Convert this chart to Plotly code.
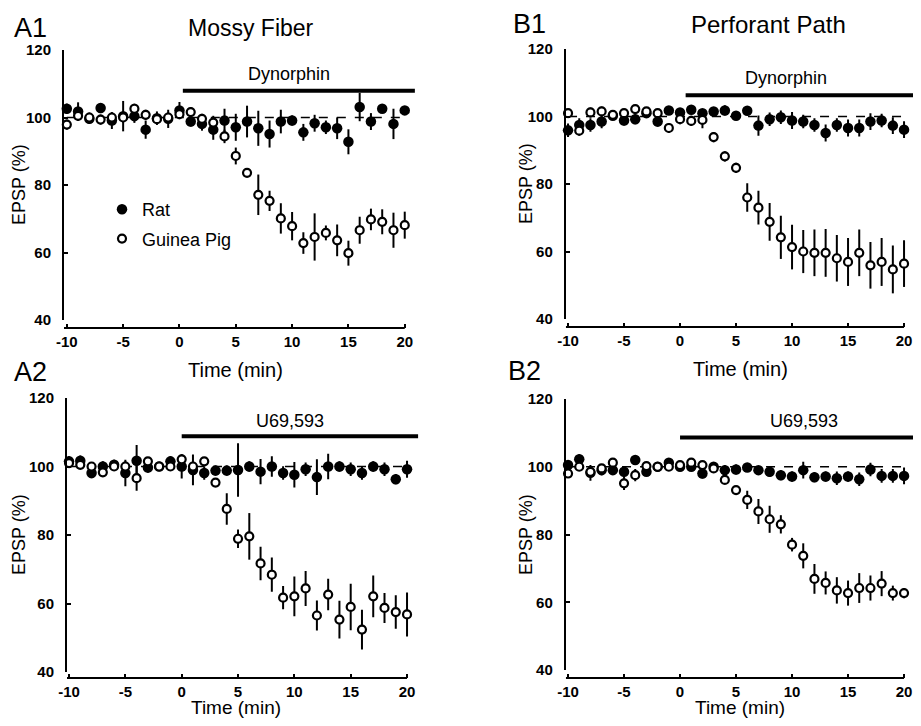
import plotly.graph_objects as go

# ---------------- data ----------------
time_min = list(range(-10, 21))
x_ticks = [-10, -5, 0, 5, 10, 15, 20]
x_tick_labels = ["-10", "-5", "0", "5", "10", "15", "20"]
y_ticks = [40, 60, 80, 100, 120]
y_tick_labels = ["40", "60", "80", "100", "120"]
baseline = 100

# A1 Mossy fiber, dynorphin
a1_rat = [102.6, 101.8, 99.6, 102.8, 99.1, 100.4, 100.4, 96.4, 99.8, 99.6, 102.1,
          98.8, 98.1, 96.4, 99.1, 97.1, 98.8, 96.8, 95.1, 98.8, 99.1,
          95.6, 98.3, 97.1, 96.8, 92.8, 103.1, 98.8, 102.6, 98.1, 102.1]
a1_rat_err = [1.5, 2.7, 1.5, 1.5, 2.5, 4.5, 2, 2.7, 2, 2.7, 2.5,
              1.5, 2, 3, 3.5, 4, 4.7, 5.2, 4, 3.5, 1.5,
              2.5, 2.5, 2, 3.2, 3.7, 4.2, 2.5, 1, 4.5, 1]
a1_gp = [97.9, 100.5, 100, 99.4, 100, 100, 102.6, 100.8, 99.5, 100, 101,
         101.6, 99.6, 98.5, 94.4, 88.6, 83.6, 77.1, 75.3, 70.1, 67.8,
         62.8, 64.6, 65.8, 63.6, 59.8, 66.6, 69.8, 69.1, 66.6, 68.1]
a1_gp_err = [1.5, 1.5, 1.5, 1.5, 1.5, 1.5, 1.5, 1.5, 1.5, 1.5, 1.5,
             1.5, 1.5, 2, 2, 2.5, 1, 6, 3, 4.5, 4.2,
             3.2, 7, 2.2, 4.7, 3.7, 4, 3.2, 3.7, 5.2, 4]

# B1 Perforant path, dynorphin
b1_rat = [95.9, 97.5, 97.5, 98.5, 100.2, 98.8, 99.2, 101, 98.5, 101.8, 101.2,
          102, 101, 101.5, 101.8, 100.2, 101.7, 97.3, 99.2, 99.8, 98.8,
          98.5, 97.5, 95.1, 97.5, 96.6, 96.6, 98.5, 98.8, 97.3, 96.1]
b1_rat_err = [2, 2, 2, 2, 1, 1.5, 1.5, 1, 1.5, 1, 1,
              1, 1, 1, 1.5, 1, 1, 3, 2, 2, 2.5,
              2, 2, 2.5, 2, 2.5, 2.5, 2.5, 2, 2.5, 2.5]
b1_gp = [101, 95.8, 101.2, 101.5, 100.5, 101, 102.2, 101.5, 101, 96.6, 99.2,
         98.7, 99, 93.9, 88.2, 84.8, 76, 73, 68.8, 64.2, 61.3,
         60, 59.6, 59.6, 58, 56.9, 59.6, 55.9, 56.9, 54.7, 56.4]
b1_gp_err = [1, 1.5, 1.5, 1.5, 1, 1, 1, 1, 1, 1.5, 1.5,
             1.5, 2.5, 1.5, 1.5, 1.5, 4.2, 5, 5.6, 6.4, 6.6,
             6.4, 6.9, 7.1, 6.9, 7.1, 6.9, 6.9, 7.1, 7.1, 6.9]

# A2 Mossy fiber, U69,593
a2_rat = [101.5, 101.7, 98.1, 100, 100.5, 98.1, 101.7, 99.7, 100, 101.5, 100,
          99, 98.1, 98.8, 98.8, 99, 100, 98.5, 100, 98.1, 97.6,
          99.2, 96.9, 100, 100, 99.2, 98.1, 100, 99.2, 96.3, 99.2]
a2_rat_err = [1.5, 1.5, 1.5, 1.5, 1.5, 3.9, 4.6, 1.5, 1, 1.5, 3.5,
              4.5, 2, 1.5, 1.5, 7.8, 1.5, 3.7, 3, 2, 3.7,
              2, 5.2, 3.7, 1.5, 2, 2, 1.5, 2, 1.5, 2.5]
a2_gp = [101, 100.5, 100, 98.3, 100, 100, 96.6, 101.5, 100, 100, 102.1,
         100, 101.5, 95.3, 87.6, 78.9, 79.6, 71.7, 68.4, 61.7, 62.1,
         64.4, 56.5, 62.6, 55.3, 59, 52.4, 62.1, 58.7, 57.5, 56.8]
a2_gp_err = [1, 1, 1, 1, 1, 1.5, 3.7, 1, 1, 1, 1.5,
             1, 1, 1, 4.6, 2.7, 6.8, 4.9, 5, 3.4, 5.8,
             5.1, 4.4, 4.6, 5.5, 6.8, 5.8, 6.1, 4.4, 4.9, 6.4]

# B2 Perforant path, U69,593
b2_rat = [100.5, 102.2, 98.2, 99, 99, 98.5, 102, 98.5, 100, 101.2, 100,
          100, 98, 100, 99, 99.2, 99.8, 99, 98.5, 97.5, 97.1,
          99, 96.9, 97.1, 96.6, 97.1, 96.3, 99.2, 97.3, 97.3, 97.3]
b2_rat_err = [1.5, 1.5, 2.3, 1.5, 1, 1.5, 1, 1, 1, 1, 1,
              1, 1.5, 1, 1.5, 1.5, 1, 1, 1.5, 1.5, 1.5,
              2.5, 1.5, 1.5, 2, 1.5, 2, 2, 2, 2, 2.5]
b2_gp = [98, 100, 98.5, 99.5, 101.2, 95.1, 97.5, 100.2, 100, 100, 100.5,
         101.2, 100.5, 99.5, 96.1, 93.1, 90.2, 86.8, 84.5, 83, 77,
         73.7, 66.9, 65.7, 63.5, 62.7, 64.2, 64.2, 65.5, 62.7, 62.7]
b2_gp_err = [1, 1, 1, 1, 1, 2, 1.8, 1, 1, 1, 1,
             1, 1, 1, 1, 1, 2.7, 3.7, 4, 2.7, 2,
             3.7, 4.4, 3.4, 3.9, 3.7, 4.4, 3.7, 3.7, 2.2, 1.5]

drug_names = ["Dynorphin", "Dynorphin", "U69,593", "U69,593"]
drug_start = [0.3, 0.5, 0.0, 0.0]
drug_end = [20.9, 20.8, 21.0, 20.8]
drug_bar_level = [107.9, 106.3, 108.8, 108.6]
drug_label_x = [9.7, 9.5, 9.6, 11.1]
drug_label_y = [112.9, 111.3, 113.4, 113.6]

series_names = ["Rat", "Guinea Pig"]

# ---------------- layout geometry ----------------
# positions below are pixels of the 921x726 page; the page body keeps an
# 8 px margin on every side, so the figure is 905x710 placed at (8, 8).
PAGE_W, PAGE_H = 921, 726
OFF = 8
W, H = PAGE_W - 2 * OFF, PAGE_H - 2 * OFF
FONT = "Liberation Sans, Arial, Helvetica, sans-serif"

panels = [
    dict(rat=a1_rat, rat_err=a1_rat_err, gp=a1_gp, gp_err=a1_gp_err,
         xpx=(64, 416), xr=(-10.25, 21.0), ypx=(320, 50), xaxis_px=328),
    dict(rat=b1_rat, rat_err=b1_rat_err, gp=b1_gp, gp_err=b1_gp_err,
         xpx=(565.8, 913.0), xr=(-10.2, 20.8), ypx=(319, 49), xaxis_px=327),
    dict(rat=a2_rat, rat_err=a2_rat_err, gp=a2_gp, gp_err=a2_gp_err,
         xpx=(67, 418.3), xr=(-10.18, 21.0), ypx=(672, 398), xaxis_px=678),
    dict(rat=b2_rat, rat_err=b2_rat_err, gp=b2_gp, gp_err=b2_gp_err,
         xpx=(565.8, 913.0), xr=(-10.2, 20.8), ypx=(670, 399), xaxis_px=678),
]


def px(x):
    return min(1.0, max(0.0, (x - OFF) / W))


def py(y):
    return min(1.0, max(0.0, 1 - (y - OFF) / H))


fig = go.Figure()
layout = dict(
    width=W, height=H,
    margin=dict(l=0, r=0, t=0, b=0, pad=0, autoexpand=False),
    paper_bgcolor="white", plot_bgcolor="white",
    font=dict(family=FONT, color="black"),
    showlegend=True,
)
shapes = []
annotations = []

for i, p in enumerate(panels):
    n = "" if i == 0 else str(i + 1)
    xa, ya = "x" + n, "y" + n
    # rat (filled)
    fig.add_trace(go.Scatter(
        x=time_min, y=p["rat"], mode="markers", name=series_names[0],
        xaxis=xa, yaxis=ya, cliponaxis=False, showlegend=(i == 0),
        legendgroup="rat",
        marker=dict(symbol="circle", size=10.5, color="black",
                    line=dict(color="black", width=0)),
        error_y=dict(type="data", array=p["rat_err"], visible=True,
                     color="black", thickness=2, width=0),
    ))
    # guinea pig (open)
    fig.add_trace(go.Scatter(
        x=time_min, y=p["gp"], mode="markers", name=series_names[1],
        xaxis=xa, yaxis=ya, cliponaxis=False, showlegend=(i == 0),
        legendgroup="gp",
        marker=dict(symbol="circle", size=8, color="white",
                    line=dict(color="black", width=2.2)),
        error_y=dict(type="data", array=p["gp_err"], visible=True,
                     color="black", thickness=2, width=0),
    ))

    layout["xaxis" + n] = dict(
        domain=[px(p["xpx"][0]), px(p["xpx"][1])], range=list(p["xr"]),
        anchor="free", position=py(p["xaxis_px"]), automargin=False,
        showline=False, showgrid=False, zeroline=False,
        tickmode="array", tickvals=x_ticks, ticktext=x_tick_labels,
        ticks="inside", ticklen=4, tickwidth=2, tickcolor="black",
        ticklabelstandoff=3,
        tickfont=dict(family=FONT, size=15, color="black", weight="bold"),
    )
    layout["yaxis" + n] = dict(
        domain=[py(p["ypx"][0]), py(p["ypx"][1])], range=[40, 120],
        anchor=xa, automargin=False,
        showline=True, linewidth=2, linecolor="black",
        showgrid=False, zeroline=False,
        tickmode="array", tickvals=y_ticks, ticktext=y_tick_labels,
        ticks="inside", ticklen=4, tickwidth=2, tickcolor="black",
        ticklabelstandoff=8,
        tickfont=dict(family=FONT, size=15, color="black", weight="bold"),
    )
    # x spine
    shapes.append(dict(type="line", xref=xa, yref="paper",
                       x0=p["xr"][0], x1=x_ticks[-1],
                       y0=py(p["xaxis_px"]), y1=py(p["xaxis_px"]),
                       line=dict(color="black", width=2), layer="above"))
    # dashed 100% reference
    shapes.append(dict(type="line", xref=xa, yref=ya,
                       x0=time_min[0], x1=time_min[-1], y0=baseline, y1=baseline,
                       line=dict(color="black", width=1.5, dash="dash"), layer="below"))
    # drug application bar
    shapes.append(dict(type="line", xref=xa, yref=ya,
                       x0=drug_start[i], x1=drug_end[i],
                       y0=drug_bar_level[i], y1=drug_bar_level[i],
                       line=dict(color="black", width=4), layer="above"))
    annotations.append(dict(xref=xa, yref=ya, x=drug_label_x[i], y=drug_label_y[i],
                            text=drug_names[i], showarrow=False,
                            font=dict(family=FONT, size=18, color="black"),
                            xanchor="center", yanchor="middle"))

# panel letters, headings, axis titles
labels = [
    ("A1", 12, 28, 27, "left"), ("B1", 511, 24, 27, "left"),
    ("A2", 12, 372, 27, "left"), ("B2", 506, 371, 27, "left"),
    ("Mossy Fiber", 251, 28, 23, "center"), ("Perforant Path", 768, 25, 24, "center"),
    ("Time (min)", 236, 370, 20, "center"), ("Time (min)", 740, 369, 20, "center"),
    ("Time (min)", 236, 707, 19, "center"), ("Time (min)", 740, 707, 19, "center"),
]
for t, x, y, s, anc in labels:
    annotations.append(dict(xref="paper", yref="paper", x=px(x), y=py(y), text=t,
                            showarrow=False, xanchor=anc, yanchor="middle",
                            font=dict(family=FONT, size=s, color="black")))
for x, y in [(19, 185), (526, 184), (19, 535), (526, 535)]:
    annotations.append(dict(xref="paper", yref="paper", x=px(x), y=py(y),
                            text="EPSP (%)", textangle=-90, showarrow=False,
                            xanchor="center", yanchor="middle",
                            font=dict(family=FONT, size=18, color="black")))

layout["shapes"] = shapes
layout["annotations"] = annotations
layout["legend"] = dict(x=px(102), y=py(191), xanchor="left", yanchor="top",
                        bgcolor="rgba(0,0,0,0)", borderwidth=0,
                        tracegroupgap=3,
                        font=dict(family=FONT, size=18, color="black"))
fig.update_layout(**layout)
fig.write_html("out.html")
